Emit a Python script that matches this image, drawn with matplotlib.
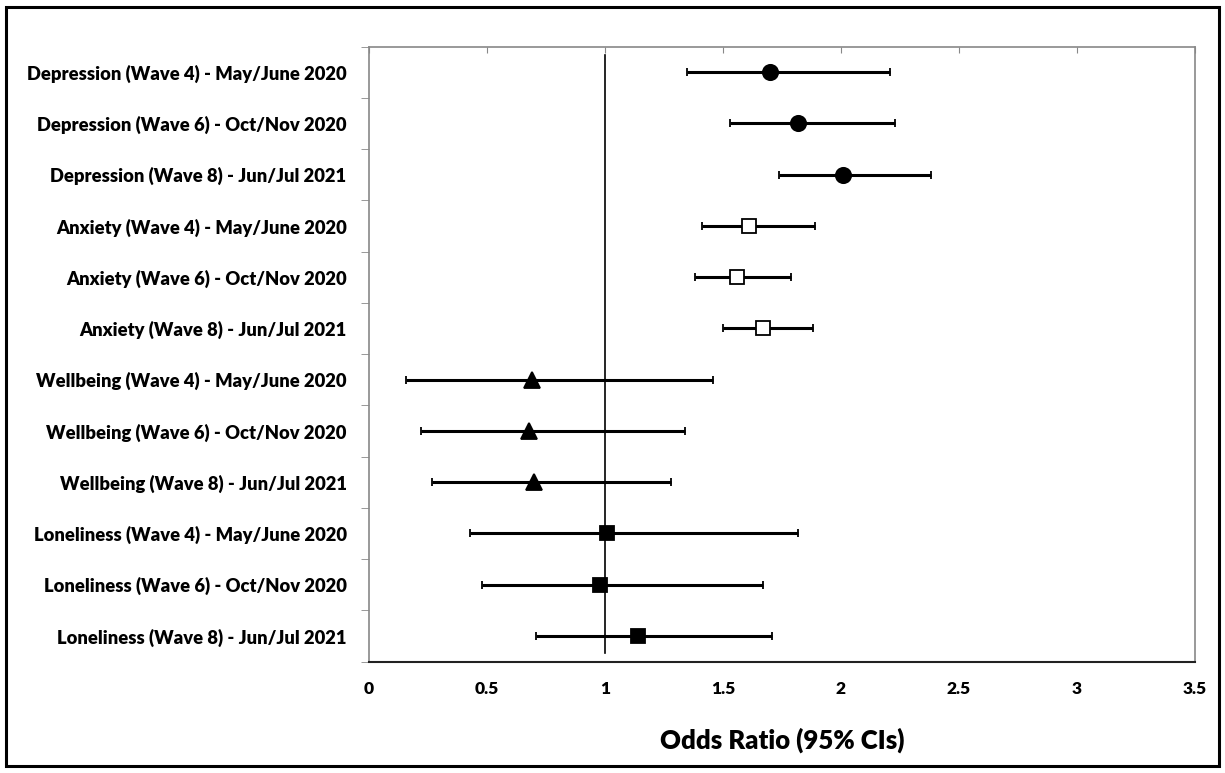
import matplotlib
matplotlib.use('Agg')
import matplotlib.pyplot as plt
from matplotlib.patches import Rectangle

plt.rcParams['font.family'] = ['Lato', 'DejaVu Sans']

# rows from top to bottom
labels = [
    'Depression (Wave 4) - May/June 2020',
    'Depression (Wave 6) - Oct/Nov 2020',
    'Depression (Wave 8) - Jun/Jul 2021',
    'Anxiety (Wave 4) - May/June 2020',
    'Anxiety (Wave 6) - Oct/Nov 2020',
    'Anxiety (Wave 8) - Jun/Jul 2021',
    'Wellbeing (Wave 4) - May/June 2020',
    'Wellbeing (Wave 6) - Oct/Nov 2020',
    'Wellbeing (Wave 8) - Jun/Jul 2021',
    'Loneliness (Wave 4) - May/June 2020',
    'Loneliness (Wave 6) - Oct/Nov 2020',
    'Loneliness (Wave 8) - Jun/Jul 2021',
]
odds = [1.70, 1.82, 2.01, 1.61, 1.56, 1.67, 0.69, 0.68, 0.70, 1.01, 0.98, 1.14]
ci_low = [1.35, 1.53, 1.74, 1.41, 1.38, 1.50, 0.16, 0.22, 0.27, 0.43, 0.48, 0.71]
ci_high = [2.21, 2.23, 2.38, 1.89, 1.79, 1.88, 1.46, 1.34, 1.28, 1.82, 1.67, 1.71]
groups = ['Depression'] * 3 + ['Anxiety'] * 3 + ['Wellbeing'] * 3 + ['Loneliness'] * 3

styles = {
    'Depression': dict(marker='o', mfc='black', ms=11),
    'Anxiety': dict(marker='s', mfc='white', ms=10.5),
    'Wellbeing': dict(marker='^', mfc='black', ms=11),
    'Loneliness': dict(marker='s', mfc='black', ms=10.5),
}

fig = plt.figure(figsize=(12.25, 7.73), dpi=100)
ax = fig.add_axes([0.301, 0.1442, 0.6745, 0.7956])

# reference line at OR = 1
ax.plot([1, 1], [-0.33, 11.33], color='black', linewidth=1.2, zorder=1)

for i in range(len(labels)):
    st = styles[groups[i]]
    ax.errorbar(odds[i], i, xerr=[[odds[i] - ci_low[i]], [ci_high[i] - odds[i]]],
                fmt=st['marker'], color='black', mfc=st['mfc'], mec='black', mew=1.3,
                ms=st['ms'], elinewidth=2.2, capsize=3, capthick=2.2, zorder=3)

ax.set_xlim(0, 3.5)
ax.set_ylim(11.5, -0.5)
ax.set_xticks([0, 0.5, 1, 1.5, 2, 2.5, 3, 3.5])
ax.set_xticklabels(['0', '0.5', '1', '1.5', '2', '2.5', '3', '3.5'], fontweight='heavy', fontsize=12.5)
ax.set_yticks(range(len(labels)))
ax.set_yticklabels(labels, fontweight='heavy', fontsize=13.2)
ax.set_yticks([k - 0.5 for k in range(len(labels) + 1)], minor=True)

ax.tick_params(axis='x', top=True, bottom=False, labeltop=False, labelbottom=True,
               direction='in', length=4, color='#888888', pad=14)
ax.tick_params(axis='y', which='major', length=0, pad=16)
ax.tick_params(axis='y', which='minor', length=6, color='#888888', direction='out')

for side in ['left', 'top', 'right']:
    ax.spines[side].set_color('#888888')
    ax.spines[side].set_linewidth(1.2)
ax.spines['bottom'].set_color('#222222')
ax.spines['bottom'].set_linewidth(1.5)

ax.set_xlabel('Odds Ratio (95% CIs)', fontsize=18.5, fontweight='heavy', labelpad=22)

# outer frame
fig.patches.append(Rectangle((6 / 1225, 7 / 773), 1213 / 1225, 759 / 773,
                             transform=fig.transFigure, fill=False,
                             edgecolor='black', linewidth=2.2))

fig.savefig('out.png', dpi=100)
